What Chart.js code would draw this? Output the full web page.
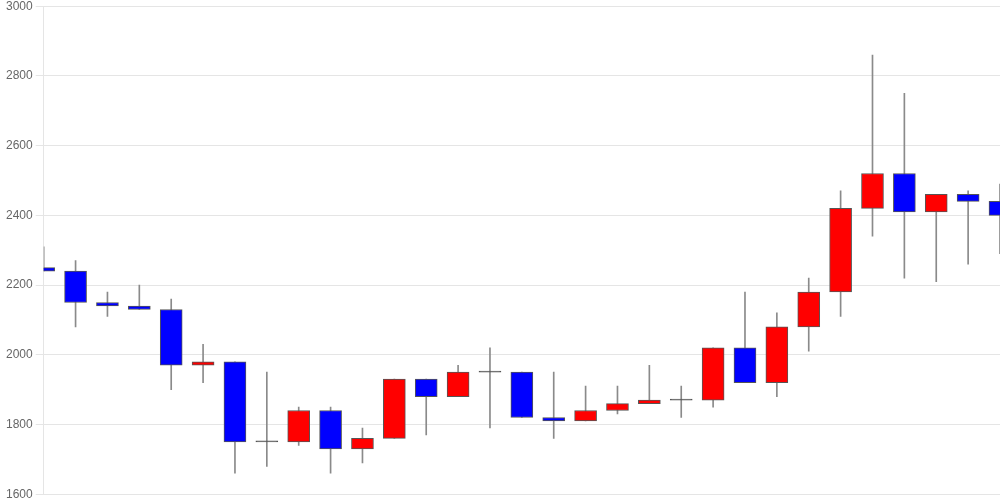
<!DOCTYPE html>
<html>
<head>
<meta charset="utf-8">
<script src="https://cdn.jsdelivr.net/npm/chart.js@4/dist/chart.umd.min.js"></script>
<style>
    html, body { margin: 0; padding: 0; background: #fff; width: 1000px; height: 500px; overflow: hidden; }
    #wrap { position: absolute; left: 0; top: 0; width: 1000px; height: 520px; }
</style>
</head>
<body>
<div id="wrap"><canvas id="kabuka-chart"></canvas></div>
<script>
// --- DATOS (velas diarias) ---
const labels = ['1', '2', '3', '4', '5', '6', '7', '8', '9', '10', '11', '12', '13', '14', '15', '16',
    '17', '18', '19', '20', '21', '22', '23', '24', '25', '26', '27', '28', '29', '30', '31'];
const opens  = [2250, 2240, 2150, 2140, 2130, 1970, 1980, 1750, 1750, 1840, 1730, 1760, 1930, 1880, 1950, 1950,
    1820, 1810, 1840, 1860, 1870, 1870, 2020, 1920, 2080, 2180, 2420, 2520, 2410, 2460, 2440];
const closes = [2240, 2150, 2140, 2130, 1970, 1980, 1750, 1750, 1840, 1730, 1760, 1930, 1880, 1950, 1950, 1820,
    1810, 1840, 1860, 1870, 1870, 2020, 1920, 2080, 2180, 2420, 2520, 2410, 2460, 2440, 2400];
const highs  = [2310, 2270, 2180, 2200, 2160, 2030, 1980, 1950, 1850, 1850, 1790, 1930, 1930, 1970, 2020, 1950,
    1950, 1910, 1910, 1970, 1910, 2020, 2180, 2120, 2220, 2470, 2860, 2750, 2460, 2470, 2490];
const lows   = [2240, 2080, 2110, 2130, 1900, 1920, 1660, 1680, 1740, 1660, 1690, 1760, 1770, 1880, 1790, 1820,
    1760, 1810, 1830, 1860, 1820, 1850, 1920, 1880, 2010, 2110, 2340, 2220, 2210, 2260, 2290];
const yTicks = [1600, 1800, 2000, 2200, 2400, 2600, 2800, 3000];

const UP_COLOR = '#ff0000';
const DOWN_COLOR = '#0000ff';

const bodyColor = (i) => {
    if (closes[i] > opens[i]) return UP_COLOR;
    if (closes[i] < opens[i]) return DOWN_COLOR;
    return '#555';
};

const wrap = document.getElementById('wrap');
const ctx = document.getElementById('kabuka-chart').getContext('2d');

const chart = new Chart(ctx, {
    type: 'bar',
    data: {
        labels: labels,
        datasets: [
            {
                label: 'body',
                data: opens.map((o, i) => [o, closes[i]]),
                backgroundColor: labels.map((_, i) => bodyColor(i)),
                borderColor: '#555',
                borderWidth: 1,
                borderSkipped: false,
                barThickness: 22,
                minBarLength: 1,
                grouped: false,
                order: 0
            },
            {
                label: 'wick',
                data: lows.map((l, i) => [l, highs[i]]),
                backgroundColor: '#8a8a8a',
                borderWidth: 0,
                barThickness: 1,
                grouped: false,
                order: 1
            }
        ]
    },
    options: {
        responsive: true,
        maintainAspectRatio: false,
        animation: false,
        layout: { padding: { left: 3 } },
        plugins: { legend: { display: false }, tooltip: { enabled: false } },
        scales: {
            x: {
                display: false,
                offset: false,
                grid: { display: false }
            },
            y: {
                min: yTicks[0],
                max: yTicks[yTicks.length - 1],
                afterBuildTicks: (axis) => { axis.ticks = yTicks.map(v => ({ value: v })); },
                ticks: { color: '#666', font: { size: 12 }, callback: (value) => String(value) },
                grid: { color: 'rgba(0,0,0,0.1)' }
            }
        }
    }
});

// Ajuste del lienzo: el área de trazado ocupa de y=6 a y=494 (etiquetas extremas recortadas)
let area = chart.chartArea;
const extra = wrap.clientHeight - (area.bottom - area.top);
wrap.style.height = (488 + extra) + 'px';
chart.resize();
area = chart.chartArea;
wrap.style.top = (6 - area.top) + 'px';
</script>
</body>
</html>
